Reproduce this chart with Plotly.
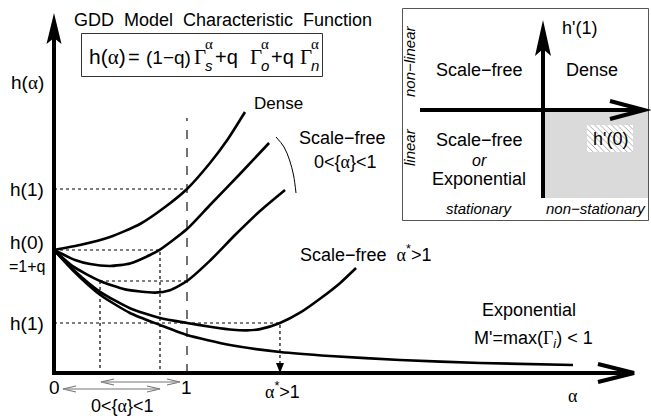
import plotly.graph_objects as go

W, H = 651, 416
FONT = "Liberation Sans, Arial, sans-serif"
SERIF = "Liberation Serif, Times New Roman, serif"
A = '<span style="font-family:%s">α</span>' % SERIF
G = '<span style="font-family:%s">Γ</span>' % SERIF

# ---------------- data (model units: alpha, h(alpha)) ----------------
q = 0.5
h0 = 1 + q
h1_hi = 2.244
h1_lo = 0.61
h_mid = 1.122
alpha_star = 1.699
alpha_a, alpha_b = 0.346, 0.797

dense_a = [0, 0.195, 0.421, 0.647, 0.835, 1.0, 1.173, 1.308, 1.436]
dense_h = [1.5, 1.561, 1.659, 1.817, 2.024, 2.244, 2.561, 2.854, 3.183]

sf1_a = [0, 0.158, 0.271, 0.421, 0.571, 0.722, 0.797, 1.0, 1.173, 1.398, 1.617]
sf1_h = [1.5, 1.378, 1.329, 1.305, 1.335, 1.439, 1.505, 1.756, 2.049, 2.427, 2.805]

sf2_a = [0, 0.143, 0.346, 0.534, 0.759, 0.872, 1.0, 1.173, 1.361, 1.549, 1.737]
sf2_h = [1.5, 1.300, 1.122, 1.020, 0.980, 1.010, 1.122, 1.370, 1.683, 1.976, 2.232]

sfs_a = [0, 0.143, 0.346, 0.571, 0.797, 1.0, 1.173, 1.346, 1.45, 1.55, 1.699, 1.850, 2.0, 2.150, 2.271]
sfs_h = [1.5, 1.262, 0.99, 0.79, 0.67, 0.61, 0.565, 0.527, 0.52, 0.535, 0.610, 0.735, 0.905, 1.095, 1.280]

exp_a = [0, 0.143, 0.346, 0.571, 0.797, 1.0, 1.323, 1.699, 2.075, 2.602, 3.203, 3.902]
exp_h = [1.5, 1.250, 0.955, 0.732, 0.585, 0.463, 0.341, 0.256, 0.207, 0.159, 0.122, 0.098]

# ---------------- layout geometry (pixels) ----------------
X0, Y0, SX, SY = 54, 373, 133, 82
xr = [(0 - X0) / SX, (W - X0) / SX]
yr = [(Y0 - H) / SY, Y0 / SY]

fig = go.Figure()

def line(a, h, width=2.6, dash=None, color="black", spline=True):
    fig.add_trace(go.Scatter(
        x=a, y=h, mode="lines", hoverinfo="skip", showlegend=False,
        line=dict(color=color, width=width, dash=dash,
                  shape="spline" if spline else "linear", smoothing=0.6)))

# dotted guides
dot = dict(width=1.2, dash="dot", spline=False)
line([0, 1], [h1_hi, h1_hi], **dot)
line([0, alpha_b, alpha_b], [h0, h0, 0], **dot)
line([alpha_a, 1], [h_mid, h_mid], **dot)
line([alpha_a, alpha_a], [h_mid, 0], **dot)
line([0, alpha_star, alpha_star], [h1_lo, h1_lo, 0.09], **dot)
# dashed alpha = 1
line([1, 1], [0, 3.11], width=1.5, dash="dash", color="#444", spline=False)

# curves
for a, h in [(dense_a, dense_h), (sf1_a, sf1_h), (sf2_a, sf2_h),
             (sfs_a, sfs_h), (exp_a, exp_h)]:
    line(a, h)

# hatched h'(0) box (pixel coords on overlay axes)
fig.add_trace(go.Scatter(
    x=[587, 633, 633, 587, 587], y=[125, 125, 152, 152, 125],
    xaxis="x2", yaxis="y2", mode="lines", fill="toself",
    line=dict(width=0, color="rgba(0,0,0,0)"), hoverinfo="skip", showlegend=False,
    fillcolor="white",
    fillpattern=dict(shape="\\", size=4, solidity=0.22, fgcolor="#444", bgcolor="white")))

# arc bracket
fig.add_trace(go.Scatter(
    x=[276, 284, 289.5, 293.5, 296], y=[137, 147, 160, 175, 193],
    xaxis="x2", yaxis="y2", mode="lines", hoverinfo="skip", showlegend=False,
    line=dict(color="black", width=1, shape="spline")))

shapes = []
def seg(x0, y0, x1, y1, w=4, color="black", layer="above"):
    shapes.append(dict(type="line", xref="x2", yref="y2", x0=x0, y0=y0, x1=x1, y1=y1,
                       line=dict(color=color, width=w), layer=layer))
def path(p, fill=None, w=0, color="black"):
    shapes.append(dict(type="path", xref="x2", yref="y2", path=p,
                       fillcolor=fill if fill else "rgba(0,0,0,0)",
                       line=dict(color=color, width=w)))

# inset grey region
shapes.append(dict(type="rect", xref="x2", yref="y2", x0=543, y0=110, x1=648, y1=198,
                   fillcolor="#dadada", line=dict(width=0), layer="below"))
# inset frame
shapes.append(dict(type="rect", xref="x2", yref="y2", x0=402.5, y0=8.5, x1=648.5, y1=220.5,
                   fillcolor="rgba(0,0,0,0)", line=dict(color="#555", width=1)))
# formula frame
shapes.append(dict(type="rect", xref="x2", yref="y2", x0=81.5, y0=33.5, x1=322.5, y1=76.5,
                   fillcolor="rgba(0,0,0,0)", line=dict(color="#333", width=1)))

# main axes
seg(54, 375, 54, 32)
path("M54,13 L61.5,44 L54,38 L46.5,44 Z", fill="black")
seg(52, 373, 630, 373)
path("M598,364 L634,373 L598,382", w=4)
# inset axes
seg(543, 198, 543, 45)
path("M543,20 L551,56 L543,49 L535,56 Z", fill="black")
seg(420, 110, 640, 110)
path("M610,101 L644,110 L610,119", w=4)
# alpha* arrowhead
path("M280,373 L276,363 L284,363 Z", fill="black")
# grey double arrows
gc = "#777"
seg(101, 382, 180, 382, w=1.2, color=gc)
path("M114,379 L101,382 L114,385 M167,379 L180,382 L167,385", w=1.2, color=gc)
seg(63, 389, 160, 389, w=1.2, color=gc)
path("M76,386 L63,389 L76,392 M147,386 L160,389 L147,392", w=1.2, color=gc)

ann = []
def txt(t, x, y, size=18, italic=False, angle=0, xanchor="center", family=FONT):
    if italic:
        t = "<i>" + t + "</i>"
    ann.append(dict(text=t, x=x, y=y, xref="x2", yref="y2", showarrow=False,
                    font=dict(family=family, size=size, color="black"),
                    xanchor=xanchor, yanchor="middle", textangle=angle))

txt("GDD\u00a0 Model\u00a0 Characteristic\u00a0 Function", 72, 20, size=18, xanchor="left")

# formula, built from pieces
txt("h(" + A + ")", 87, 57, size=21, xanchor="left")
txt("=", 134, 57, size=20)
txt("(1−q)", 144, 57, size=19, xanchor="left")
for gx, sub, px_plus in [(192, "s", 213), (248, "o", 269), (298, "n", None)]:
    txt("Γ", gx, 57, size=21, xanchor="left", family=SERIF)
    txt(sub, gx + 11, 65, size=15, italic=True, xanchor="left")
    txt("α", gx + 11, 44, size=15, xanchor="left", family=SERIF)
    if px_plus:
        txt("+q", px_plus, 57, size=20, xanchor="left")

txt("h(" + A + ")", 27, 82, size=19)
txt("h(1)", 27, 189, size=19)
txt("h(0)", 27, 242, size=19)
txt("=1+q", 27, 266, size=16)
txt("h(1)", 27, 323, size=19)
txt("0", 54, 387, size=19)
txt("1", 186, 387, size=19)
txt("0<{" + A + "}<1", 122, 406, size=18)
txt(A + "<sup>*</sup>>1", 282, 390, size=18)
txt(A, 573, 396, size=18)

txt("Dense", 278, 103, size=17)
txt("Scale−free", 342, 138, size=18)
txt("0<{" + A + "}<1", 345, 162, size=18)
txt("Scale−free\u00a0 " + A + "<sup>*</sup>>1", 298, 253, size=18, xanchor="left")
txt("Exponential", 529, 310, size=18)
txt("M'=max(" + G + "<sub><i>i</i></sub>) < 1", 533, 339, size=18)

# inset text
txt("h'(1)", 579, 28, size=18)
txt("Scale−free", 479, 70, size=18)
txt("Dense", 592, 70, size=18)
txt("Scale−free", 479, 140, size=18)
txt("or", 479, 160, size=16, italic=True)
txt("Exponential", 479, 179, size=18)
txt("h'(0)", 610, 139, size=18)
txt("non−linear", 409, 62, size=15, italic=True, angle=-90)
txt("linear", 409, 147, size=15, italic=True, angle=-90)
txt("stationary", 479, 208, size=15, italic=True)
txt("non−stationary", 596, 208, size=15, italic=True)

ax = dict(visible=False, showgrid=False, zeroline=False, fixedrange=True)
fig.update_layout(
    width=W, height=H, margin=dict(l=0, r=0, t=0, b=0),
    paper_bgcolor="white", plot_bgcolor="white", showlegend=False,
    xaxis=dict(range=xr, domain=[0, 1], **ax),
    yaxis=dict(range=yr, domain=[0, 1], **ax),
    xaxis2=dict(range=[0, W], domain=[0, 1], overlaying="x", anchor="y2", **ax),
    yaxis2=dict(range=[H, 0], domain=[0, 1], overlaying="y", anchor="x2", **ax),
    shapes=shapes, annotations=ann,
)
fig.write_html("out.html", config={"displayModeBar": False},
               post_script="document.body.style.margin='0';document.body.style.overflow='hidden';")
